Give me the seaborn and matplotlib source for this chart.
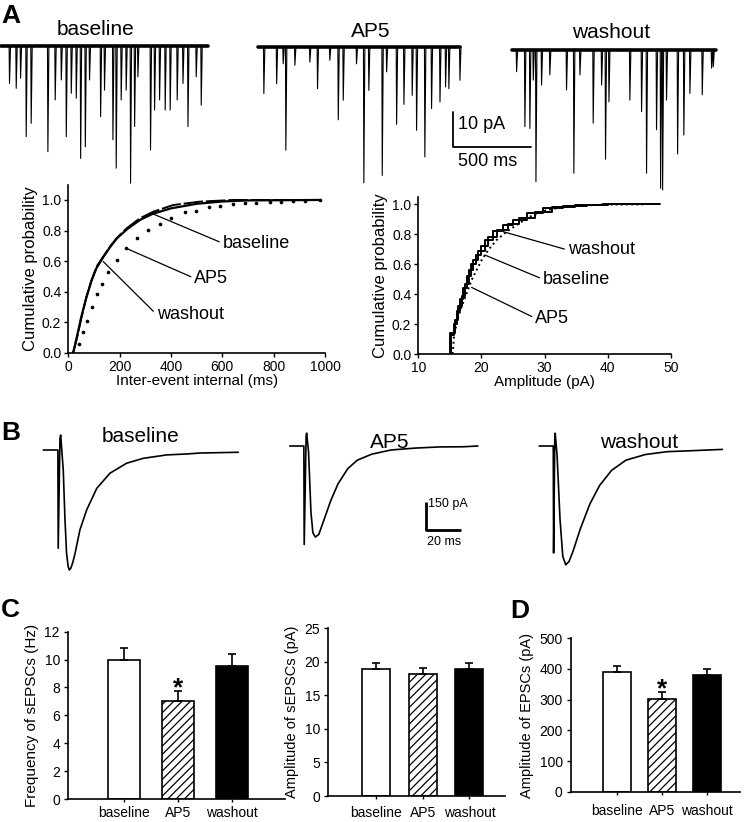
import numpy as np
import pandas as pd
import matplotlib
matplotlib.use('Agg')
import matplotlib.pyplot as plt
from matplotlib.ticker import FormatStrFormatter
import seaborn as sns

W, H = 745, 822

sns.set_theme(style='ticks')
plt.rcParams['font.family'] = ['Liberation Sans', 'DejaVu Sans']
plt.rcParams.update({
    'text.color': 'black', 'axes.labelcolor': 'black', 'axes.edgecolor': 'black',
    'xtick.color': 'black', 'ytick.color': 'black', 'axes.linewidth': 1.2,
    'xtick.major.width': 1.0, 'ytick.major.width': 1.0,
    'xtick.major.size': 3, 'ytick.major.size': 3, 'hatch.linewidth': 0.9,
})

conditions = ['baseline', 'AP5', 'washout']

# A - spontaneous traces: event time (ms from trace start), amplitude (pA)
base_dur = 1327
base_ev_t = [53, 96, 124, 160, 192, 299, 346, 385, 417, 449, 481, 509, 539, 566, 637, 662,
             716, 737, 769, 801, 829, 855, 876, 957, 983, 1015, 1051, 1083, 1128, 1165, 1197, 1250, 1282]
base_ev_a = [10.7, 12.1, 9.2, 25.9, 22.1, 30.2, 15.4, 9.7, 25.9, 13.5, 14.9, 32.1, 28.8, 9.7, 20.2, 12.6,
             26.8, 34.9, 15.4, 12.6, 39.2, 23.0, 8.8, 29.7, 18.3, 15.4, 18.3, 18.3, 15.4, 10.7, 23.0, 8.8, 16.9]

ap5_dur = 1295
ap5_ev_t = [36, 118, 160, 177, 235, 331, 380, 459, 513, 545, 630, 677, 709, 795, 823, 887, 934,
            987, 1015, 1068, 1111, 1165, 1201, 1222, 1293]
ap5_ev_a = [13.3, 10.5, 4.8, 29.5, 5.2, 4.3, 11.9, 3.8, 20.8, 15.2, 4.8, 38.8, 12.4, 36.7, 7.1, 22.1, 16.4,
            13.8, 23.8, 31.4, 17.6, 15.7, 11.4, 11.9, 9.5]

wash_dur = 1310
wash_ev_t = [28, 81, 113, 135, 152, 188, 241, 348, 395, 434, 519, 573, 598, 620, 754, 829, 861,
             925, 951, 964, 989, 1060, 1100, 1139, 1218, 1278, 1289]
wash_ev_a = [6.2, 21.9, 22.4, 8.6, 37.6, 10.0, 7.1, 11.4, 35.2, 7.1, 20.9, 10.0, 31.2, 14.8, 14.3, 17.6, 35.2,
             22.8, 39.5, 40.0, 14.3, 29.7, 24.3, 12.4, 12.8, 5.2, 4.8]

# A - cumulative inter-event interval (ms)
iei_base_x = [19, 35, 52, 71, 91, 110, 136, 162, 188, 227, 279, 331, 409, 512, 642, 980]
iei_base_y = [0, 0.105, 0.236, 0.367, 0.476, 0.563, 0.629, 0.694, 0.749, 0.814, 0.88, 0.923, 0.967, 0.989, 1.0, 1.0]
iei_wash_x = [19, 33, 50, 70, 90, 110, 136, 162, 190, 230, 280, 330, 400, 500, 600, 700, 980]
iei_wash_y = [0, 0.10, 0.23, 0.36, 0.47, 0.555, 0.625, 0.69, 0.75, 0.81, 0.87, 0.91, 0.945, 0.975, 0.99, 0.997, 1.0]
iei_ap5_x = [40, 56, 73, 91, 110, 130, 156, 188, 224, 266, 311, 357, 402, 454, 499, 549, 590,
             642, 687, 733, 785, 830, 875, 921, 979]
iei_ap5_y = [0.057, 0.133, 0.21, 0.30, 0.384, 0.45, 0.53, 0.607, 0.683, 0.749, 0.803, 0.843, 0.88, 0.92,
             0.93, 0.952, 0.96, 0.974, 0.978, 0.983, 0.987, 0.989, 0.991, 0.996, 1.0]

# A - cumulative amplitude (pA)
amp_base_x = [15.0, 15.0, 15.8, 16.33, 16.86, 17.39, 18.02, 18.71, 19.5, 20.55, 21.87, 23.46, 25.04,
              27.15, 29.79, 32.96, 36.65, 39.29, 48.3]
amp_base_y = [0, 0.138, 0.23, 0.32, 0.39, 0.47, 0.56, 0.63, 0.69, 0.76, 0.82, 0.86, 0.895,
              0.94, 0.973, 0.991, 0.998, 1.0, 1.0]
amp_wash_x = [15.1, 15.1, 15.6, 16.1, 16.6, 17.1, 17.7, 18.4, 19.1, 20.0, 21.1, 22.5, 24.2,
              26.0, 28.4, 31.2, 34.8, 40.0, 44.0]
amp_wash_y = [0, 0.13, 0.2, 0.29, 0.37, 0.44, 0.52, 0.6, 0.66, 0.72, 0.78, 0.83, 0.87,
              0.91, 0.95, 0.98, 0.995, 1.0, 1.0]
amp_ap5_x = [15.44, 15.65, 16.17, 16.86, 17.65, 18.44, 19.23, 20.03, 21.08, 22.4, 23.98, 25.57,
             27.68, 30.32, 34.01, 39.29, 45.62]
amp_ap5_y = [0, 0.116, 0.227, 0.316, 0.405, 0.494, 0.561, 0.628, 0.695, 0.762, 0.817, 0.862,
             0.918, 0.962, 0.989, 0.998, 1.0]

# B - averaged evoked EPSCs (ms, pA)
evk_base_t = [0, 8.4, 8.6, 9.6, 10.0, 11.5, 12.5, 13.4, 14.3, 15.0, 15.9, 17.0, 18.3, 21.1, 25.0,
              30.8, 38.4, 48.0, 57.6, 71.1, 82.7, 90.3, 112.4]
evk_base_i = [0, 0, -520, 60, 79, -106, -370, -545, -615, -635, -625, -595, -547, -423, -317,
              -203, -123, -70, -44, -26, -21, -16, -12]
evk_ap5_t = [0, 8.1, 8.3, 9.4, 9.7, 10.8, 12.2, 13.3, 14.7, 16.7, 19.5, 23.6, 27.8, 33.4, 38.9,
             47.3, 58.4, 72.3, 86.2, 100.1, 108.4]
evk_ap5_i = [0, 0, -521, 50, 68, -30, -352, -459, -482, -468, -396, -289, -200, -120, -75,
             -43, -21, -11, -5, -4, 0]
evk_wash_t = [0, 8.1, 8.3, 9.0, 9.2, 10.3, 12.0, 13.6, 15.3, 17.2, 19.5, 23.6, 29.2, 34.8, 41.7,
              50.0, 61.2, 73.7, 87.6, 105.6]
evk_wash_i = [0, 0, -566, 50, 68, -48, -388, -584, -629, -611, -557, -441, -307, -209, -129,
              -75, -45, -30, -25, -18]

# C / D - bar data (mean, SEM)
freq_mean = [10.0, 7.05, 9.54]
freq_sem = [0.8, 0.72, 0.86]
samp_mean = [18.9, 18.2, 18.9]
samp_sem = [1.0, 0.9, 1.0]
eamp_mean = [389, 303, 381]
eamp_sem = [21, 21, 20]

bar_colors = {'baseline': 'white', 'AP5': 'white', 'washout': 'black'}

fig = plt.figure(figsize=(W / 100, H / 100), dpi=100)


def px_axes(x0, y0, x1, y1):
    return fig.add_axes([x0 / W, 1 - y1 / H, (x1 - x0) / W, (y1 - y0) / H])


def fig_text(x, y, s, **kw):
    fig.text(x / W, 1 - y / H, s, **kw)


def trace_axes(ox, oy, sx, sy, left, right, up, down):
    ax = px_axes(ox - left, oy - up, ox + right, oy + down)
    ax.set_xlim(-left / sx, right / sx)
    ax.set_ylim(-down / sy, up / sy)
    ax.axis('off')
    return ax


def spont_frame(times, amps, dur):
    # each event: sharp downward deflection returning to baseline
    xs, ys = [0.0], [0.0]
    for t, a in zip(times, amps):
        xs += [t - 1, t + 1.5, t + 8]
        ys += [0, -a, 0]
    xs.append(dur)
    ys.append(0)
    return pd.DataFrame({'t': xs, 'i': ys})


# ---------- A traces
sxA, syA = 0.156, 3.5
spont = [(1, 46, base_ev_t, base_ev_a, base_dur),
         (258, 47, ap5_ev_t, ap5_ev_a, ap5_dur),
         (512, 50, wash_ev_t, wash_ev_a, wash_dur)]
trA = []
for ox, oy, tt, aa, dur in spont:
    ax = trace_axes(ox, oy, sxA, syA, 2, 215, 12, 145)
    df = spont_frame(tt, aa, dur)
    sns.lineplot(data=df, x='t', y='i', ax=ax, color='black', lw=0.8, estimator=None, sort=False)
    sns.lineplot(x=[0, dur], y=[0, 0], ax=ax, color='black', lw=2.6, estimator=None, sort=False)
    trA.append(ax)

# scale bar (10 pA, 500 ms)
ax = trA[1]
sb_x, sb_y = 1250, -18.6
ax.plot([sb_x, sb_x, sb_x + 500], [sb_y, sb_y - 10, sb_y - 10], color='black', lw=1.3, clip_on=False)
ax.text(sb_x + 32, sb_y - 4.9, '10 pA', fontsize=13, ha='left', va='baseline', clip_on=False)
ax.text(sb_x + 32, sb_y - 15.4, '500 ms', fontsize=13, ha='left', va='baseline', clip_on=False)

fig_text(1, 23.3, 'A', fontsize=19, fontweight='bold', ha='left', va='baseline')
for s, x, y in [('baseline', 96, 35), ('AP5', 371, 36.7), ('washout', 611, 38.3)]:
    fig_text(x, y, s, fontsize=15, ha='center', va='baseline')

# ---------- A cumulative plots
arrow = dict(arrowstyle='-', lw=0.9, color='black', shrinkA=0, shrinkB=0, relpos=(0, 0.5))

ax = px_axes(68.3, 185, 325, 352.7)
sns.lineplot(x=iei_wash_x, y=iei_wash_y, ax=ax, color='black', lw=1.6, estimator=None, sort=False)
sns.lineplot(x=iei_base_x, y=iei_base_y, ax=ax, color='black', lw=1.4, estimator=None, sort=False,
             linestyle=(0, (10, 1.5)))
sns.scatterplot(x=iei_ap5_x, y=iei_ap5_y, ax=ax, color='black', s=7, linewidth=0)
ax.annotate('baseline', xy=(324, 0.913), xytext=(601, 0.717), fontsize=13, va='center', arrowprops=arrow)
ax.annotate('AP5', xy=(225, 0.684), xytext=(490, 0.488), fontsize=13, va='center', arrowprops=arrow)
ax.annotate('washout', xy=(136, 0.597), xytext=(344, 0.25), fontsize=13, va='center', arrowprops=arrow)
ax.set_xlim(0, 1000)
ax.set_ylim(0, 1.098)
ax.set_xticks(range(0, 1001, 200))
ax.set_yticks(np.arange(0, 1.01, 0.2))
ax.yaxis.set_major_formatter(FormatStrFormatter('%.1f'))
ax.tick_params(labelsize=10, pad=2)
ax.set_xlabel('Inter-event internal (ms)', fontsize=11, labelpad=0)
ax.set_ylabel('Cumulative probability', fontsize=12, labelpad=3)
sns.despine(ax=ax)

ax = px_axes(418.3, 196.7, 671, 354)
sns.lineplot(x=amp_base_x, y=amp_base_y, ax=ax, color='black', lw=1.4, estimator=None, sort=False,
             drawstyle='steps-post')
sns.lineplot(x=amp_wash_x, y=amp_wash_y, ax=ax, color='black', lw=1.4, estimator=None, sort=False,
             drawstyle='steps-post')
sns.lineplot(x=amp_ap5_x, y=amp_ap5_y, ax=ax, color='black', lw=1.4, estimator=None, sort=False,
             linestyle=':')
ax.annotate('washout', xy=(23.46, 0.817), xytext=(33.64, 0.695), fontsize=13, va='center', arrowprops=arrow)
ax.annotate('baseline', xy=(20.55, 0.661), xytext=(29.7, 0.5), fontsize=13, va='center', arrowprops=arrow)
ax.annotate('AP5', xy=(18.44, 0.445), xytext=(28.47, 0.24), fontsize=13, va='center', arrowprops=arrow)
ax.set_xlim(10, 50)
ax.set_ylim(0, 1.051)
ax.set_xticks(range(10, 51, 10))
ax.set_yticks(np.arange(0, 1.01, 0.2))
ax.yaxis.set_major_formatter(FormatStrFormatter('%.1f'))
ax.tick_params(labelsize=10, pad=2)
ax.set_xlabel('Amplitude (pA)', fontsize=11, labelpad=0)
ax.set_ylabel('Cumulative probability', fontsize=12, labelpad=3)
sns.despine(ax=ax)

# ---------- B evoked traces
sxB, syB = 1.735, 0.189
evoked = [(43.3, 450, evk_base_t, evk_base_i),
          (289.8, 446, evk_ap5_t, evk_ap5_i),
          (539.2, 446, evk_wash_t, evk_wash_i)]
trB = []
for ox, oy, tt, ii in evoked:
    ax = trace_axes(ox, oy, sxB, syB, 3, 200, 20, 130)
    sns.lineplot(x=tt, y=ii, ax=ax, color='black', lw=1.2, estimator=None, sort=False)
    trB.append(ax)

ax = trB[1]
sb_x, sb_y = 78.5, -294.7
ax.plot([sb_x, sb_x, sb_x + 20], [sb_y, sb_y - 150, sb_y - 150], color='black', lw=2.0,
        clip_on=False, solid_capstyle='butt')
ax.text(sb_x + 1, sb_y - 26, '150 pA', fontsize=9, ha='left', va='baseline', clip_on=False)
ax.text(sb_x + 10.4, sb_y - 229, '20 ms', fontsize=9, ha='center', va='baseline', clip_on=False)

fig_text(1, 440, 'B', fontsize=19, fontweight='bold', ha='left', va='baseline')
for s, x, y in [('baseline', 141, 442), ('AP5', 389.5, 448), ('washout', 639, 448)]:
    fig_text(x, y, s, fontsize=15, ha='center', va='baseline')


# ---------- C / D bar charts
def bar_panel(ax, means, sems, width, ylim, yticks, ylabel, star, xpad):
    df = pd.DataFrame({'cond': conditions, 'val': means})
    sns.barplot(data=df, x='cond', y='val', hue='cond', palette=bar_colors, width=width,
                edgecolor='black', linewidth=1.2, errorbar=None, legend=False, ax=ax)
    ax.patches[1].set_hatch('////')
    ax.errorbar(range(3), means, yerr=[[0, 0, 0], sems], fmt='none', ecolor='black',
                elinewidth=1.2, capsize=3, capthick=1.2)
    if star:
        ax.annotate('*', xy=(1, means[1] + sems[1]), xytext=(0, -3), textcoords='offset points',
                    ha='center', va='baseline', fontsize=19, fontweight='bold')
    ax.set_ylim(*ylim)
    ax.set_yticks(yticks)
    ax.set_xlabel('')
    ax.set_ylabel(ylabel, fontsize=10.5, labelpad=4)
    ax.tick_params(axis='y', labelsize=10, pad=3)
    ax.tick_params(axis='x', labelsize=10, length=2, pad=xpad)
    sns.despine(ax=ax)


ax = px_axes(68.3, 631.7, 285, 799)
bar_panel(ax, freq_mean, freq_sem, 0.59, (0, 12), range(0, 13, 2), 'Frequency of sEPSCs (Hz)', True, 3)
ax.yaxis.label.set_size(11)
ax.set_xlim(-1.04, 2.98)

ax = px_axes(328.3, 628.3, 505, 796)
bar_panel(ax, samp_mean, samp_sem, 0.6, (0, 25), range(0, 26, 5), 'Amplitude of sEPSCs (pA)', False, 5)
ax.set_xlim(-1.02, 2.76)

ax = px_axes(571, 638.3, 740, 791.7)
bar_panel(ax, eamp_mean, eamp_sem, 0.62, (0, 500), range(0, 501, 100), 'Amplitude of EPSCs (pA)', True, 7)
ax.set_xlim(-1.016, 2.74)

fig_text(1, 616.7, 'C', fontsize=19, fontweight='bold', ha='left', va='baseline')
fig_text(510, 618.3, 'D', fontsize=19, fontweight='bold', ha='left', va='baseline')

fig.savefig('out.png', dpi=100)
